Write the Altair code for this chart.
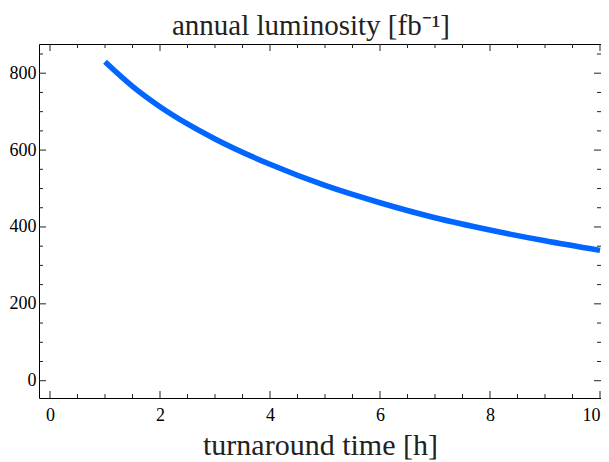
import altair as alt
import pandas as pd

# data
turnaround = [1, 1.5, 2, 2.5, 3, 4, 5, 6, 7, 8, 9, 10]
luminosity = [830, 766, 713, 668, 629, 563, 508, 463, 424, 392, 364, 339]

x_major = [0, 2, 4, 6, 8, 10]
x_minor = [0.5, 1, 1.5, 2.5, 3, 3.5, 4.5, 5, 5.5, 6.5, 7, 7.5, 8.5, 9, 9.5]
y_major = [0, 200, 400, 600, 800]
y_minor = [50, 100, 150, 250, 300, 350, 450, 500, 550, 650, 700, 750, 850]

W, H = 562, 354
XDOM = [-0.2, 10.018]
YDOM = [-45, 876]
FONT = "Liberation Serif"

df = pd.DataFrame({"t": turnaround, "L": luminosity})

xs = alt.Scale(domain=XDOM, nice=False, zero=False)
ys = alt.Scale(domain=YDOM, nice=False, zero=False)

xaxis = alt.Axis(values=x_major, format="d", ticks=False, domain=False, grid=False,
                 labelPadding=8, titlePadding=6, title="turnaround time [h]")
yaxis = alt.Axis(values=y_major, format="d", ticks=False, domain=False, grid=False,
                 labelPadding=3, title=None)

line = alt.Chart(df).mark_line(
    color="#0066ff", strokeWidth=5.5, strokeCap="butt", interpolate="monotone", clip=True
).encode(
    x=alt.X("t:Q", scale=xs, axis=xaxis),
    y=alt.Y("L:Q", scale=ys, axis=yaxis),
)

def xticks(vals, length):
    d = pd.DataFrame({"v": vals})
    base = alt.Chart(d).mark_rule(color="#222", strokeWidth=1)
    bottom = base.encode(x=alt.X("v:Q", scale=xs, axis=xaxis), y=alt.value(H), y2=alt.value(H - length))
    top = base.encode(x=alt.X("v:Q", scale=xs, axis=xaxis), y=alt.value(0), y2=alt.value(length))
    return [bottom, top]

def yticks(vals, length):
    d = pd.DataFrame({"v": vals})
    base = alt.Chart(d).mark_rule(color="#222", strokeWidth=1)
    left = base.encode(y=alt.Y("v:Q", scale=ys, axis=yaxis), x=alt.value(0), x2=alt.value(length))
    right = base.encode(y=alt.Y("v:Q", scale=ys, axis=yaxis), x=alt.value(W), x2=alt.value(W - length))
    return [left, right]

layers = [line] + xticks(x_major, 7) + xticks(x_minor, 4) + yticks(y_major, 7) + yticks(y_minor, 4)

chart = alt.layer(*layers).properties(
    width=W, height=H,
    title=alt.Title("annual luminosity [fb⁻¹]", offset=3, dx=-9),
    autosize=alt.AutoSizeParams(type="none"),
    padding={"left": 31, "top": 36, "right": 0, "bottom": 62},
).configure(
    background="white",
    view=alt.ViewConfig(stroke="black", strokeWidth=1),
    axis=alt.AxisConfig(labelFont=FONT, labelFontSize=18, labelColor="black",
                        titleFont=FONT, titleFontSize=30, titleFontWeight="normal",
                        titleColor="#222"),
    title=alt.TitleConfig(font=FONT, fontSize=29, fontWeight="normal", color="#222"),
)

chart.save("out.html", embed_options={"renderer": "svg", "actions": False})
